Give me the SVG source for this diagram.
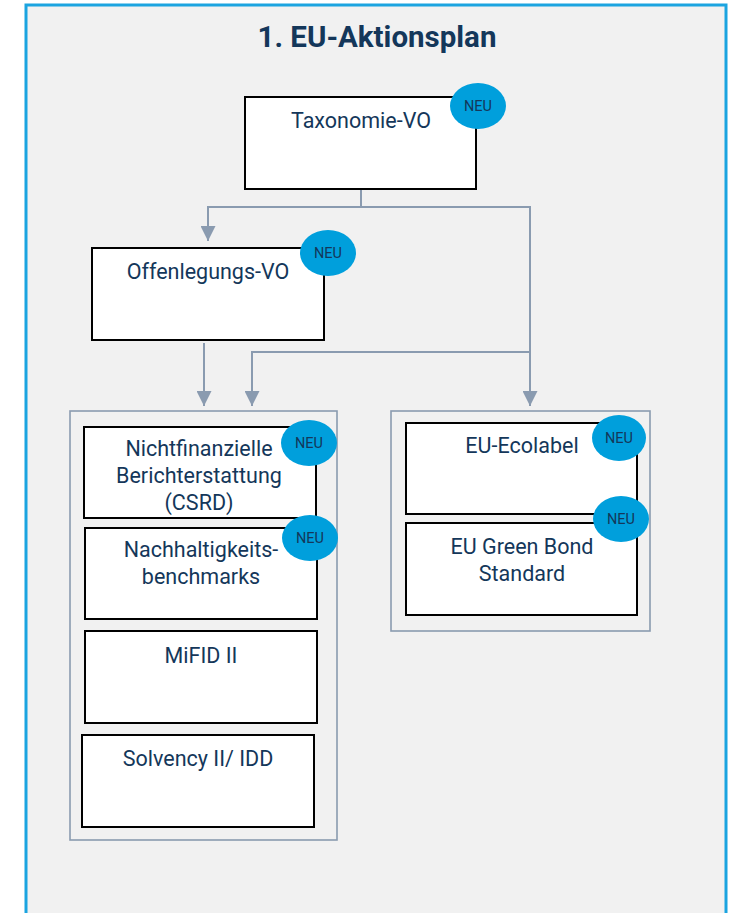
<svg xmlns="http://www.w3.org/2000/svg" width="733" height="913" viewBox="0 0 733 913">
<defs>
<style>
.box{fill:#ffffff;stroke:#000000;stroke-width:2}
.grp{fill:none;stroke:#8a9bb0;stroke-width:1.6}
.con{fill:none;stroke:#8a9bb0;stroke-width:2}
.lbl{font-family:Roboto,"Liberation Sans",sans-serif;font-size:21.5px;fill:#14375a;text-anchor:middle}
.neu{fill:#009fdc}
.neut{font-family:Roboto,"Liberation Sans",sans-serif;font-size:14.5px;fill:#14375a;text-anchor:middle}
</style>
<marker id="arr" viewBox="0 0 10 10" refX="10" refY="5" markerWidth="7.5" markerHeight="7.5" orient="auto" markerUnits="strokeWidth">
<path d="M0,0 L10,5 L0,10 z" fill="#8a9bb0"/>
</marker>
</defs>
<rect x="0" y="0" width="733" height="913" fill="#ffffff"/>
<rect x="26" y="5" width="700" height="930" fill="#f1f1f1" stroke="#1ba4e0" stroke-width="3"/>
<text x="377" y="47" font-family="Roboto,'Liberation Sans',sans-serif" font-size="29.5" font-weight="bold" fill="#14375a" text-anchor="middle">1. EU-Aktionsplan</text>

<g id="connectors">
<polyline class="con" points="361,189 361,207 208,207 208,241" marker-end="url(#arr)"/>
<polyline class="con" points="361,207 530,207 530,406" marker-end="url(#arr)"/>
<polyline class="con" points="204,343 204,406" marker-end="url(#arr)"/>
<polyline class="con" points="530,352 252,352 252,406" marker-end="url(#arr)"/>
</g>

<g id="group-left"><rect class="grp" x="70" y="411" width="267" height="429"/></g>
<g id="group-right"><rect class="grp" x="391" y="411" width="259" height="220"/></g>

<g id="taxonomie">
<rect class="box" x="245" y="97" width="231" height="92"/>
<text class="lbl" x="361" y="128">Taxonomie-VO</text>
<ellipse class="neu" cx="478" cy="106" rx="28" ry="23"/>
<text class="neut" x="478" y="111">NEU</text>
</g>

<g id="offenlegung">
<rect class="box" x="92" y="248" width="232" height="92"/>
<text class="lbl" x="208" y="279">Offenlegungs-VO</text>
<ellipse class="neu" cx="328" cy="253" rx="28" ry="23"/>
<text class="neut" x="328" y="258">NEU</text>
</g>

<g id="csrd">
<rect class="box" x="84" y="427" width="232" height="91"/>
<text class="lbl" x="199" y="456">Nichtfinanzielle</text>
<text class="lbl" x="199" y="483">Berichterstattung</text>
<text class="lbl" x="199" y="510">(CSRD)</text>
<ellipse class="neu" cx="309" cy="443" rx="28" ry="23"/>
<text class="neut" x="309" y="448">NEU</text>
</g>

<g id="benchmarks">
<rect class="box" x="85" y="528" width="232" height="91"/>
<text class="lbl" x="201" y="557">Nachhaltigkeits-</text>
<text class="lbl" x="201" y="584">benchmarks</text>
<ellipse class="neu" cx="310" cy="538" rx="28" ry="23"/>
<text class="neut" x="310" y="543">NEU</text>
</g>

<g id="mifid">
<rect class="box" x="85" y="631" width="232" height="92"/>
<text class="lbl" x="201" y="663">MiFID II</text>
</g>

<g id="solvency">
<rect class="box" x="82" y="735" width="232" height="92"/>
<text class="lbl" x="198" y="766">Solvency II/ IDD</text>
</g>

<g id="ecolabel">
<rect class="box" x="406" y="423" width="231" height="91"/>
<text class="lbl" x="522" y="453">EU-Ecolabel</text>
<ellipse class="neu" cx="619" cy="438" rx="27" ry="23"/>
<text class="neut" x="619" y="443">NEU</text>
</g>

<g id="greenbond">
<rect class="box" x="406" y="523" width="231" height="92"/>
<text class="lbl" x="522" y="554">EU Green Bond</text>
<text class="lbl" x="522" y="581">Standard</text>
<ellipse class="neu" cx="621" cy="519" rx="28" ry="23"/>
<text class="neut" x="621" y="524">NEU</text>
</g>
</svg>
